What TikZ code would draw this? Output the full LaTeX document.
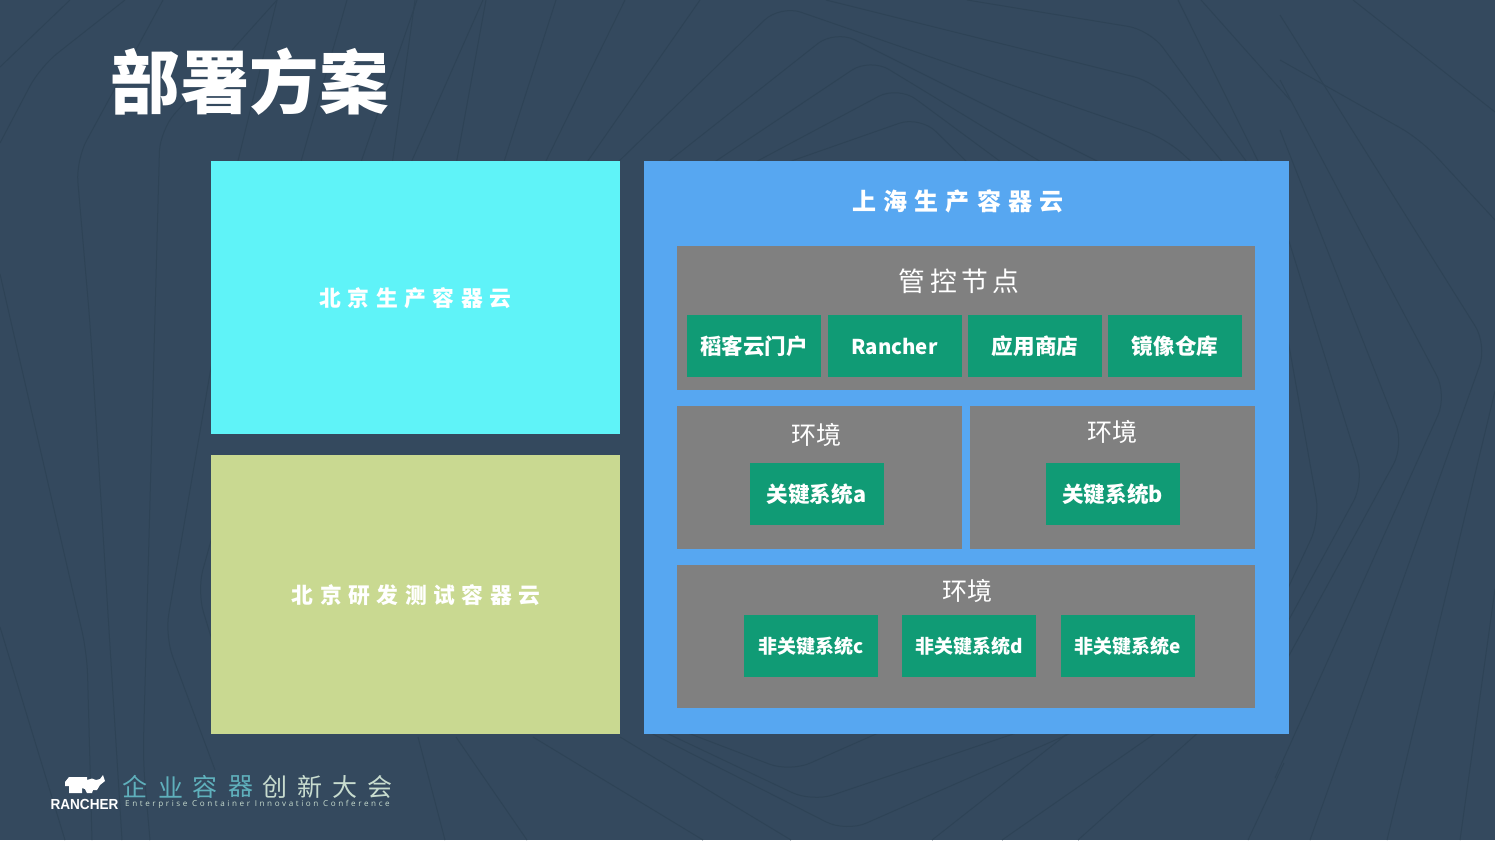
\documentclass[tikz,border=0pt]{standalone}
\usepackage{fontspec}
\usepackage{graphicx}
\setmainfont{Noto Sans CJK SC}
\newfontfamily\cjkA[LetterSpace=30]{Noto Sans CJK SC}
\newfontfamily\cjkB[LetterSpace=16]{Noto Sans CJK SC}
\newfontfamily\latinS[LetterSpace=32]{Open Sans}
\newcommand{\nudged}[1]{\raisebox{-1pt}{#1}}
\definecolor{bg}{HTML}{34495E}
\definecolor{contour}{HTML}{2E4356}
\definecolor{cyanbox}{HTML}{5FF3F8}
\definecolor{olivebox}{HTML}{C9D991}
\definecolor{bluebox}{HTML}{57A7F1}
\definecolor{greybox}{HTML}{808080}
\definecolor{greenbox}{HTML}{109B75}
\definecolor{tealtxt}{HTML}{5FB0BC}
\definecolor{paletxt}{HTML}{C8DCCF}
\tikzset{
  x=1pt,y=-1pt,
  area/.style={anchor=north west,inner sep=0pt,outer sep=0pt,rectangle},
  greyarea/.style={area,fill=greybox},
  greenitem/.style={anchor=north west,inner sep=0pt,outer sep=0pt,fill=greenbox,minimum width=134pt,minimum height=62pt,text=white,font=\fontsize{21.6}{24}\selectfont\bfseries},
  greensmall/.style={greenitem,font=\fontsize{19}{24}\selectfont\bfseries},
  toplabel/.style={text=white,inner sep=0pt,anchor=center},
  contourline/.style={draw=contour,line width=1pt,rounded corners=22pt}
}
\begin{document}
\begin{tikzpicture}
\useasboundingbox (0,0) rectangle (1495,840);
\fill[bg] (0,0) rectangle (1495,840);
% background contour lines: right side
\draw[contourline] (1280,295) -- (1320,520) -- (1280,605);
\draw[contourline] (1283,222) -- (1364,482) -- (1280,636);
\draw[contourline] (1280,130) -- (1404,445) -- (1280,672);
\draw[contourline] (1280,80) -- (1447,395) -- (1275,778);
\draw[contourline] (1280,15) -- (1487,345) -- (1310,840);
\draw[contourline] (1280,60) -- (1420,139) -- (1495,220);
\draw[contourline] (1353,0) -- (1495,112);
\draw[contourline] (1495,391) -- (1387,840);
\draw[contourline] (1495,589) -- (1460,840);
% top middle
\draw[contourline] (967,0) -- (1150,30) -- (1249,165);
\draw[contourline] (826,0) -- (1155,82) -- (1225,165);
\draw[contourline] (615,165) -- (780,5) -- (1165,138) -- (1195,165);
\draw[contourline] (664,165) -- (835,30) -- (1105,165);
\draw[contourline] (710,165) -- (870,58) -- (1046,165);
\draw[contourline] (750,165) -- (898,86) -- (1005,165);
\draw[contourline] (780,165) -- (920,116) -- (970,165);
\draw[contourline] (415,0) -- (392,165);
\draw[contourline] (486,0) -- (456,165);
\draw[contourline] (556,0) -- (503,165);
\draw[contourline] (625,0) -- (544,165);
\draw[contourline] (700,0) -- (585,165);
\draw[contourline] (1178,0) -- (1260,165);
\draw[contourline] (1201,0) -- (1290,100);
% top left
\draw[contourline] (483,0) -- (410,165);
\draw[contourline] (417,0) -- (360,165);
\draw[contourline] (347,0) -- (300,165);
\draw[contourline] (277,0) -- (237,165);
\draw[contourline] (163,0) -- (76,160) -- (90,323) -- (122,840);
\draw[contourline] (277,0) -- (160,130) -- (143,760) -- (150,840);
\draw[contourline] (70,0) -- (0,67);
\draw[contourline] (0,143) -- (40,67) -- (125,0);
\draw[contourline] (0,274) -- (87,653) -- (92,840);
\draw[contourline] (0,627) -- (65,840);
\draw[contourline] (214,350) -- (165,636) -- (215,770);
\draw[contourline] (212,537) -- (197,591) -- (212,640);
% bottom
\draw[contourline] (418,737) -- (445,840);
\draw[contourline] (456,737) -- (527,840);
\draw[contourline] (533,737) -- (703,840);
\draw[contourline] (620,737) -- (791,840);
\draw[contourline] (680,730) -- (790,772) -- (885,730);
\draw[contourline] (660,730) -- (812,802) -- (1025,730);
\draw[contourline] (645,730) -- (846,832) -- (1078,730);
\draw[contourline] (932,840) -- (1072,730);
\draw[contourline] (1002,840) -- (1160,730);
\draw[contourline] (1078,840) -- (1201,730);
\draw[contourline] (1248,840) -- (1284,763);
% title
\node[toplabel] (title) at (249.5,82) {\fontsize{69.5}{72}\selectfont\bfseries 部署方案};
% left areas
\node[area,fill=cyanbox,minimum width=409pt,minimum height=273pt] (bj1) at (211,161) {};
\node[toplabel] (bj1t) at (415.5,298.5) {\cjkA\fontsize{21.8}{24}\selectfont\bfseries 北京生产容器云};
\node[area,fill=olivebox,minimum width=409pt,minimum height=279pt] (bj2) at (211,455) {};
\node[toplabel] (bj2t) at (416,595) {\cjkA\fontsize{21.8}{24}\selectfont\bfseries 北京研发测试容器云};
% right area
\node[area,fill=bluebox,minimum width=645pt,minimum height=573pt] (sh) at (644,161) {};
\node[toplabel] (sht) at (958,201) {\cjkA\fontsize{24}{28}\selectfont\bfseries 上海生产容器云};
% management
\node[greyarea,minimum width=578pt,minimum height=144pt] (mgmt) at (677,246) {};
\node[toplabel] (mgmtt) at (959,281) {\cjkB\fontsize{26.8}{30}\selectfont 管控节点};
\node[greenitem] (m1) at (687,315) {\nudged{稻客云门户}};
\node[greenitem,font=\fontsize{20.4}{24}\selectfont\bfseries] (m2) at (827.5,315) {\nudged{Rancher}};
\node[greenitem] (m3) at (968,315) {\nudged{应用商店}};
\node[greenitem] (m4) at (1108,315) {\nudged{镜像仓库}};
% env a, b
\node[greyarea,minimum width=285pt,minimum height=143pt] (ea) at (677,406) {};
\node[toplabel] (eat) at (816,435) {\fontsize{25}{28}\selectfont 环境};
\node[greenitem] (sa) at (749.5,463) {\nudged{关键系统a}};
\node[greyarea,minimum width=285pt,minimum height=143pt] (eb) at (970,406) {};
\node[toplabel] (ebt) at (1112,432) {\fontsize{25}{28}\selectfont 环境};
\node[greenitem] (sb) at (1045.5,463) {\nudged{关键系统b}};
% env c
\node[greyarea,minimum width=578pt,minimum height=143pt] (ec) at (677,565) {};
\node[toplabel] (ect) at (967,591) {\fontsize{25}{28}\selectfont 环境};
\node[greensmall] (sc) at (744,615) {\nudged{非关键系统c}};
\node[greensmall] (sd) at (902,615) {\nudged{非关键系统d}};
\node[greensmall] (se) at (1060.5,615) {\nudged{非关键系统e}};
% logo
\fill[white] (65,782) -- (69,777) -- (87,777) -- (87,780) -- (92,778.5) -- (96,780) -- (100,779) -- (103,775) -- (105,781) -- (100,785) -- (97,790) -- (93,790) -- (92,793) -- (87,793) -- (85,789) -- (82,788) -- (82,793) -- (69,793) -- (69,786) -- (65,786) -- cycle;
\node[toplabel] (rancher) at (84.5,804) {\scalebox{0.93}[1]{\fontspec{Liberation Sans}\fontsize{14.6}{16}\selectfont\bfseries RANCHER}};
\node[toplabel,text=tealtxt] (c1) at (135,787) {\fontsize{25}{26}\selectfont 企};
\node[toplabel,text=tealtxt] (c2) at (170.5,787) {\fontsize{25}{26}\selectfont 业};
\node[toplabel,text=tealtxt] (c3) at (205,787) {\fontsize{25}{26}\selectfont 容};
\node[toplabel,text=tealtxt] (c4) at (240.5,787) {\fontsize{25}{26}\selectfont 器};
\node[toplabel,text=paletxt] (c5) at (275,787) {\fontsize{25}{26}\selectfont 创};
\node[toplabel,text=paletxt] (c6) at (310,787) {\fontsize{25}{26}\selectfont 新};
\node[toplabel,text=paletxt] (c7) at (345,787) {\fontsize{25}{26}\selectfont 大};
\node[toplabel,text=paletxt] (c8) at (380,787) {\fontsize{25}{26}\selectfont 会};
\node[toplabel,text=paletxt] (sub) at (257.5,804.5) {\latinS\fontsize{8.1}{10}\selectfont Enterprise Container Innovation Conference};
\end{tikzpicture}
\end{document}
